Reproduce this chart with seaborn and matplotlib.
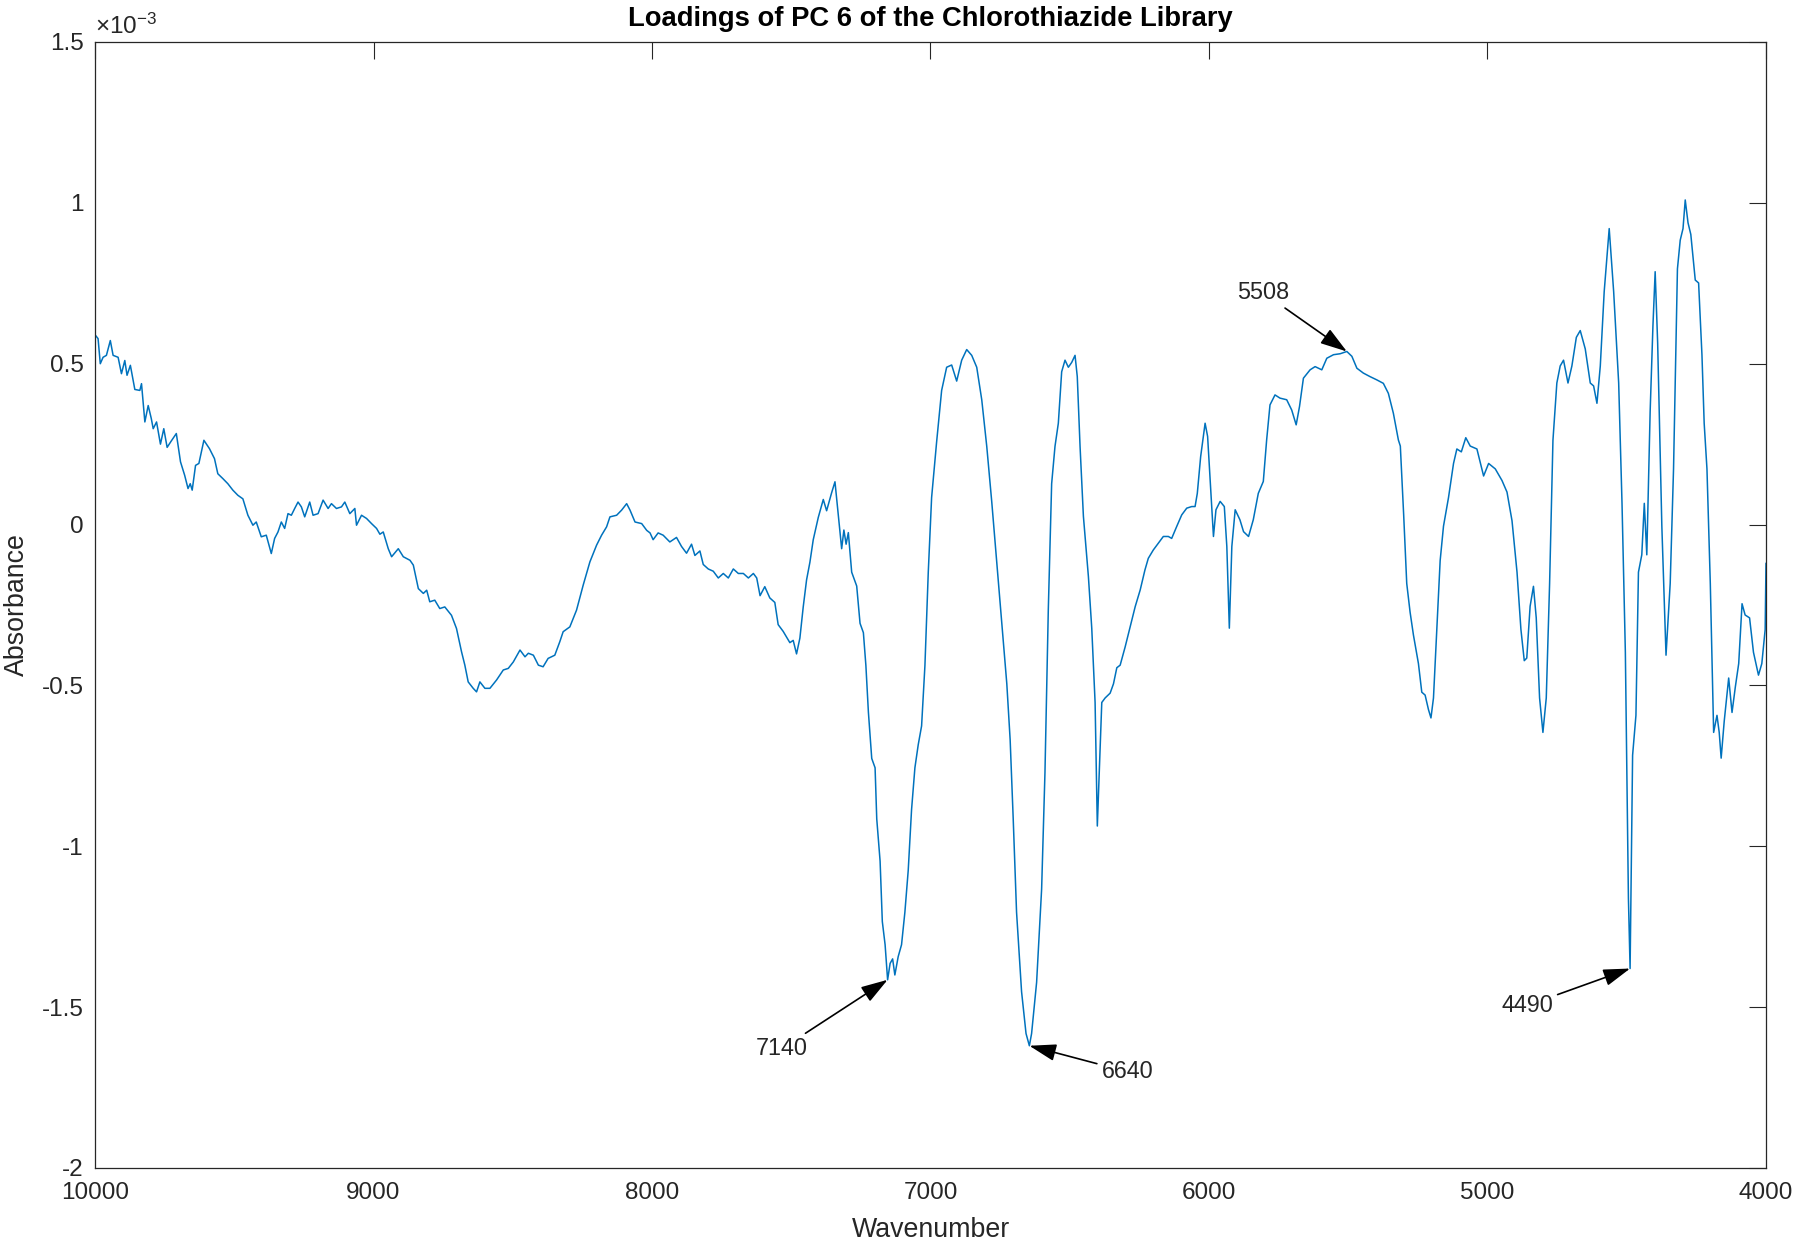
import numpy as np
import pandas as pd
import matplotlib
matplotlib.use("Agg")
import matplotlib.pyplot as plt
import seaborn as sns
from matplotlib.ticker import FixedLocator, FuncFormatter

# ---------------- data ----------------
wavenumber = [
    10000, 9989, 9981, 9971, 9959, 9945, 9935, 9917, 9905, 9893, 9885, 9873, 9857, 9839, 9833,
    9821, 9809, 9798, 9791, 9779, 9765, 9753, 9741, 9726, 9708, 9693, 9678, 9666, 9658, 9651,
    9639, 9627, 9609, 9589, 9571, 9559, 9541, 9523, 9505, 9487, 9469, 9451, 9433, 9421, 9403,
    9385, 9367, 9355, 9343, 9331, 9319, 9307, 9295, 9283, 9271, 9259, 9247, 9229, 9217, 9199,
    9181, 9163, 9151, 9133, 9115, 9103, 9085, 9067, 9061, 9043, 9025, 9007,
    8989, 8977, 8965, 8947, 8935, 8911, 8893, 8869, 8857, 8839, 8821, 8809, 8798, 8780, 8762,
    8744, 8720, 8702, 8684, 8672, 8660, 8642, 8630, 8618, 8600, 8582, 8558, 8534, 8516, 8498,
    8474, 8456, 8444, 8426, 8408, 8391, 8373, 8349, 8331, 8319, 8295, 8271, 8247, 8223, 8199,
    8181, 8163, 8151, 8127, 8109, 8091, 8079, 8061, 8037, 8019,
    8007, 7996, 7978, 7960, 7936, 7912, 7894, 7876, 7858, 7846, 7828, 7816, 7798, 7780, 7762,
    7744, 7726, 7708, 7690, 7672, 7654, 7636, 7624, 7612, 7595, 7577, 7559, 7547, 7529, 7505,
    7493, 7481, 7469, 7457, 7445, 7433, 7421, 7403, 7385, 7373, 7355, 7343, 7331,
    7319, 7311, 7303, 7295, 7283, 7265, 7253, 7241, 7232, 7223, 7211, 7199, 7193, 7181, 7173,
    7163, 7154, 7145, 7136, 7128, 7116, 7104, 7092, 7080, 7068, 7056, 7044, 7032, 7020, 7008,
    6996, 6978, 6960, 6942, 6924, 6906, 6888, 6870, 6852, 6834, 6816, 6798, 6780, 6762, 6744,
    6726, 6714, 6703, 6691, 6673, 6657, 6645, 6637, 6619, 6601, 6589, 6577, 6565, 6553, 6541,
    6529, 6517, 6505, 6493, 6481, 6473, 6463, 6451, 6433, 6421, 6409, 6401, 6394, 6385, 6373,
    6355, 6343, 6331,
    6319, 6301, 6283, 6265, 6247, 6230, 6218, 6200, 6182, 6164, 6146, 6134, 6116, 6098, 6080,
    6062, 6050, 6042, 6030, 6014, 6005, 5996, 5984, 5975, 5960, 5945, 5936, 5927, 5918, 5906,
    5889, 5876, 5858, 5841, 5823, 5805, 5793, 5781, 5763, 5745, 5721, 5703, 5687, 5675, 5661,
    5637, 5619, 5595, 5577, 5553, 5529, 5505, 5487, 5469, 5446, 5422, 5398, 5374, 5356, 5338,
    5320,
    5313, 5301, 5290, 5278, 5266, 5248, 5236, 5224, 5212, 5203, 5194, 5182, 5170, 5158, 5140,
    5122, 5110, 5094, 5078, 5062, 5038, 5014, 4996, 4972, 4948, 4930, 4912, 4894, 4880, 4868,
    4859, 4847, 4835, 4825, 4813, 4801, 4789, 4777, 4765, 4751, 4739, 4727, 4711, 4697, 4681,
    4667, 4649, 4631, 4619, 4607, 4595, 4581, 4563, 4547, 4529, 4517, 4505, 4494, 4488, 4479,
    4467, 4458, 4446, 4437, 4428, 4416, 4406, 4398, 4389, 4374, 4359, 4344, 4332, 4318, 4308,
    4298, 4290, 4280, 4270, 4254, 4242, 4230, 4222, 4212, 4200, 4188, 4176, 4168, 4161, 4150,
    4134, 4122, 4110, 4098, 4086, 4075, 4059, 4045, 4027, 4015, 4003, 4000,
]

# PC 6 loadings, in units of 1e-3
loading_e3 = [
    0.590, 0.578, 0.500, 0.520, 0.526, 0.572, 0.526, 0.520, 0.469, 0.510, 0.464, 0.495, 0.420, 0.417, 0.438,
    0.319, 0.370, 0.330, 0.298, 0.319, 0.250, 0.298, 0.240, 0.260, 0.283, 0.195, 0.153, 0.112, 0.127, 0.107,
    0.184, 0.190, 0.262, 0.236, 0.205, 0.158, 0.143, 0.127, 0.107, 0.091, 0.080, 0.029, -0.002, 0.008, -0.038,
    -0.033, -0.090, -0.043, -0.023, 0.008, -0.012, 0.034, 0.029, 0.050, 0.070, 0.055, 0.024, 0.070, 0.029, 0.034,
    0.076, 0.050, 0.065, 0.050, 0.055, 0.070, 0.034, 0.050, -0.002, 0.029, 0.019, 0.003,
    -0.012, -0.030, -0.023, -0.075, -0.100, -0.075, -0.100, -0.111, -0.126, -0.199, -0.214, -0.204, -0.240, -0.235, -0.261,
    -0.256, -0.282, -0.323, -0.395, -0.437, -0.489, -0.509, -0.520, -0.489, -0.509, -0.509, -0.483, -0.452, -0.447, -0.427,
    -0.390, -0.411, -0.400, -0.406, -0.437, -0.442, -0.416, -0.406, -0.364, -0.333, -0.318, -0.266, -0.188, -0.116, -0.064,
    -0.033, -0.007, 0.024, 0.029, 0.045, 0.065, 0.045, 0.008, 0.003, -0.018,
    -0.026, -0.047, -0.026, -0.033, -0.054, -0.040, -0.068, -0.089, -0.061, -0.096, -0.082, -0.124, -0.138, -0.145, -0.166,
    -0.152, -0.166, -0.138, -0.152, -0.152, -0.166, -0.152, -0.166, -0.221, -0.193, -0.228, -0.242, -0.311, -0.332, -0.367,
    -0.360, -0.402, -0.353, -0.256, -0.172, -0.117, -0.047, 0.022, 0.078, 0.043, 0.099, 0.133, 0.029,
    -0.075, -0.017, -0.061, -0.025, -0.148, -0.191, -0.307, -0.336, -0.438, -0.583, -0.727, -0.756, -0.915, -1.046, -1.234,
    -1.306, -1.415, -1.364, -1.350, -1.400, -1.343, -1.306, -1.205, -1.075, -0.886, -0.756, -0.684, -0.626, -0.438, -0.148,
    0.084, 0.257, 0.417, 0.489, 0.496, 0.446, 0.511, 0.544, 0.526, 0.489, 0.388, 0.243, 0.070, -0.118, -0.307,
    -0.495, -0.669, -0.915, -1.205, -1.452, -1.582, -1.620, -1.582, -1.423, -1.133, -0.771, -0.264, 0.127, 0.243, 0.315,
    0.475, 0.511, 0.489, 0.504, 0.526, 0.460, 0.243, 0.026, -0.162, -0.322, -0.553, -0.937, -0.771, -0.553, -0.539,
    -0.524, -0.495, -0.445,
    -0.437, -0.380, -0.318, -0.255, -0.203, -0.141, -0.105, -0.079, -0.058, -0.037, -0.037, -0.043, -0.006, 0.030, 0.051,
    0.056, 0.056, 0.097, 0.211, 0.315, 0.274, 0.139, -0.037, 0.046, 0.072, 0.056, -0.068, -0.322, -0.068, 0.046,
    0.015, -0.022, -0.037, 0.015, 0.097, 0.134, 0.263, 0.372, 0.403, 0.393, 0.388, 0.356, 0.310, 0.367, 0.455,
    0.481, 0.491, 0.481, 0.517, 0.528, 0.531, 0.538, 0.523, 0.486, 0.471, 0.460, 0.450, 0.439, 0.408, 0.346,
    0.263,
    0.244, 0.030, -0.183, -0.272, -0.343, -0.432, -0.521, -0.530, -0.575, -0.601, -0.539, -0.326, -0.112, -0.005, 0.084,
    0.190, 0.235, 0.226, 0.270, 0.244, 0.235, 0.151, 0.190, 0.173, 0.137, 0.101, 0.012, -0.148, -0.326, -0.423,
    -0.415, -0.254, -0.192, -0.290, -0.539, -0.646, -0.539, -0.183, 0.262, 0.440, 0.493, 0.511, 0.440, 0.493, 0.582,
    0.603, 0.546, 0.440, 0.431, 0.377, 0.493, 0.724, 0.920, 0.724, 0.440, 0.066, -0.397, -1.162, -1.380, -0.717,
    -0.593, -0.148, -0.094, 0.066, -0.094, 0.351, 0.617, 0.786, 0.564, -0.005, -0.406, -0.183, 0.173, 0.795, 0.884,
    0.920, 1.009, 0.938, 0.902, 0.760, 0.751, 0.528, 0.315, 0.173, -0.183, -0.646, -0.593, -0.646, -0.726, -0.611,
    -0.477, -0.584, -0.504, -0.432, -0.246, -0.281, -0.290, -0.397, -0.468, -0.432, -0.326, -0.120,
]

peak_labels = ["7140", "6640", "5508", "4490"]
peak_centres = [7140, 6640, 5508, 4490]
peak_kinds = ["min", "min", "max", "min"]

x_ticks = [10000, 9000, 8000, 7000, 6000, 5000, 4000]
y_ticks = [-2, -1.5, -1, -0.5, 0, 0.5, 1, 1.5]

title_text = "Loadings of PC 6 of the Chlorothiazide Library"
x_label = "Wavenumber"
y_label = "Absorbance"

# ---------------- styling ----------------
sns.set_style("white")
plt.rcParams["font.family"] = ["Liberation Sans", "DejaVu Sans"]
plt.rcParams["axes.unicode_minus"] = False
plt.rcParams["mathtext.fontset"] = "custom"
plt.rcParams["mathtext.rm"] = "Liberation Sans"
plt.rcParams["mathtext.it"] = "Liberation Sans"

DARK = "#262626"
LINE = "#0072BD"

df = pd.DataFrame({"Wavenumber": wavenumber, "Loading": loading_e3})

fig = plt.figure(figsize=(18, 12.48), dpi=100)
ax = fig.add_axes([95 / 1800, 1 - 1168 / 1248, (1766 - 95) / 1800, (1168 - 42) / 1248])

sns.lineplot(data=df, x="Wavenumber", y="Loading", ax=ax, color=LINE,
             linewidth=1.1, estimator=None, sort=True)

ax.set_xlim(10000, 4000)
ax.set_ylim(-2, 1.5)
ax.xaxis.set_major_locator(FixedLocator(x_ticks))
ax.yaxis.set_major_locator(FixedLocator(y_ticks))
ax.xaxis.set_major_formatter(FuncFormatter(lambda v, p: f"{v:g}"))
ax.yaxis.set_major_formatter(FuncFormatter(lambda v, p: f"{v:g}"))

for s in ax.spines.values():
    s.set_visible(True)
    s.set_color(DARK)
    s.set_linewidth(0.9)

ax.tick_params(axis="both", which="major", direction="in", length=12, width=0.8,
               color=DARK, labelcolor=DARK, labelsize=17.5, top=True, right=True)
ax.tick_params(axis="x", pad=10)
ax.tick_params(axis="y", pad=8)

ax.set_xlabel(x_label, fontsize=19.3, color=DARK, va="center")
ax.set_ylabel(y_label, fontsize=19.3, color=DARK, va="center")
ax.xaxis.set_label_coords(0.5, -0.055)
ax.yaxis.set_label_coords(-0.047, 0.5)

ax.text(0.5, 1.020, title_text, transform=ax.transAxes, ha="center", va="center",
        fontsize=19.7, fontweight="bold", color="black")
ax.text(0.0, 1.003, r"$\times 10^{-3}$", transform=ax.transAxes, ha="left", va="bottom",
        fontsize=17.5, color=DARK)

# annotation arrows: heads at the local extremum of the series near each label
wn = np.array(wavenumber, dtype=float)
ld = np.array(loading_e3, dtype=float)
text_offsets = [(-106, -69), (98, -26), (-84, 59), (-103, -37)]
for lab, centre, kind, off in zip(peak_labels, peak_centres, peak_kinds, text_offsets):
    mask = np.abs(wn - centre) <= 40
    idx = np.where(mask)[0]
    j = idx[np.argmin(ld[idx])] if kind == "min" else idx[np.argmax(ld[idx])]
    ax.annotate(lab, xy=(wn[j], ld[j]), xytext=off, textcoords="offset pixels",
                ha="center", va="center", fontsize=16.8, color=DARK,
                arrowprops=dict(arrowstyle="-|>,head_length=1.1,head_width=0.35",
                                mutation_scale=15, lw=1.2, color="black",
                                shrinkA=1, shrinkB=0))

fig.savefig("out.png", dpi=100, facecolor="white")
